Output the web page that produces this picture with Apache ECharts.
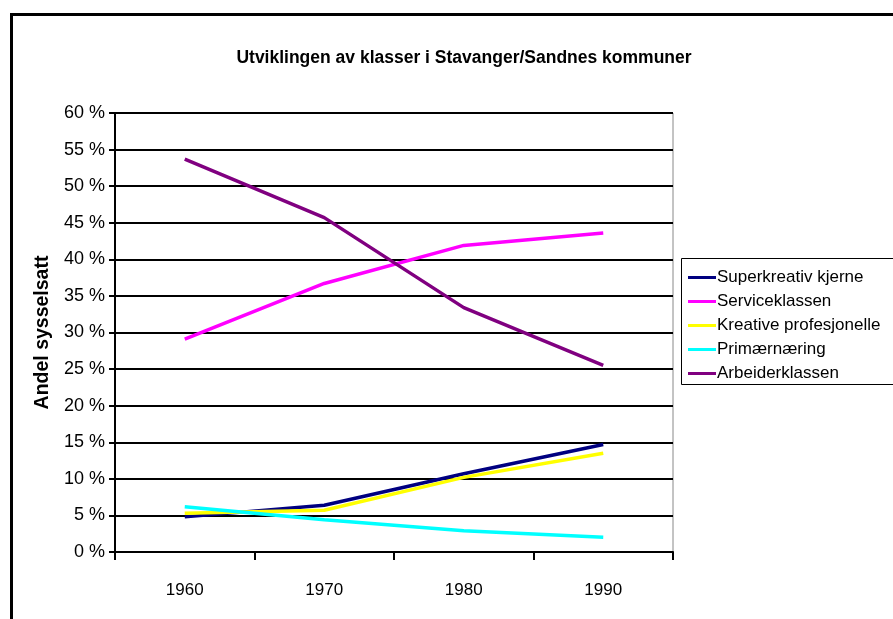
<!DOCTYPE html>
<html>
<head>
<meta charset="utf-8">
<script src="https://cdn.jsdelivr.net/npm/echarts@6/dist/echarts.min.js"></script>
<style>
  html, body { margin: 0; padding: 0; background: #ffffff; }
  #chart { width: 893px; height: 619px; }
</style>
</head>
<body>
<div id="chart"></div>
<script>
// Andel sysselsatte per klasse, Stavanger/Sandnes, 1960–1990 (prosent)
const years = ['1960', '1970', '1980', '1990'];
const superkreativ = [4.8, 6.4, 10.7, 14.7];
const service = [29.1, 36.7, 41.9, 43.6];
const kreative = [5.3, 5.7, 10.2, 13.5];
const primaer = [6.2, 4.4, 2.9, 2.0];
const arbeider = [53.7, 45.7, 33.4, 25.5];
const seriesNames = ['Superkreativ kjerne', 'Serviceklassen', 'Kreative profesjonelle', 'Primærnæring', 'Arbeiderklassen'];
const seriesColors = ['#000080', '#ff00ff', '#ffff00', '#00ffff', '#800080'];
const seriesValues = [superkreativ, service, kreative, primaer, arbeider];

const FONT = "'Liberation Sans', Arial, sans-serif";

const chart = echarts.init(document.getElementById('chart'), null, { renderer: 'canvas' });

chart.setOption({
  backgroundColor: '#ffffff',
  animation: false,
  title: {
    text: 'Utviklingen av klasser i Stavanger/Sandnes kommuner',
    left: 459, top: 44, textAlign: 'center',
    textStyle: { fontFamily: FONT, fontWeight: 'bold', fontSize: 17.5, color: '#000' }
  },
  graphic: [
    { type: 'rect', shape: { x: 11.5, y: 14.5, width: 900, height: 700 },
      style: { fill: 'none', stroke: '#000', lineWidth: 3 }, z: 100 },
    { type: 'rect', shape: { x: 681.5, y: 258.5, width: 230, height: 126 },
      style: { fill: '#fff', stroke: '#000', lineWidth: 1 }, z: 1 }
  ],
  legend: {
    orient: 'vertical',
    left: 688, top: 268,
    padding: 0,
    icon: 'rect',
    itemWidth: 28, itemHeight: 3,
    itemGap: 5,
    z: 5,
    textStyle: { fontFamily: FONT, fontSize: 17, color: '#000', lineHeight: 19, padding: [0, 0, 0, -4] },
    data: seriesNames
  },
  grid: { left: 115, right: 220, top: 113, bottom: 67, show: true, borderColor: '#888', borderWidth: 1 },
  xAxis: {
    type: 'category',
    data: years,
    boundaryGap: true,
    axisLine: { lineStyle: { color: '#000', width: 2 } },
    axisTick: { show: true, length: 8, lineStyle: { color: '#000', width: 2 } },
    axisLabel: { fontFamily: FONT, fontSize: 17, color: '#000', margin: 30 },
    splitLine: { show: false }
  },
  yAxis: {
    type: 'value',
    min: 0, max: 60, interval: 5,
    name: 'Andel sysselsatt',
    nameLocation: 'middle',
    nameGap: 54,
    nameTextStyle: { fontFamily: FONT, fontWeight: 'bold', fontSize: 19.5, color: '#000' },
    axisLine: { show: true, lineStyle: { color: '#000', width: 2 } },
    axisTick: { show: true, length: 6, lineStyle: { color: '#000', width: 2 } },
    axisLabel: { fontFamily: FONT, fontSize: 18, color: '#000', margin: 10, formatter: v => v + ' %' },
    splitLine: { show: true, lineStyle: { color: '#000', width: 2 } }
  },
  series: seriesNames.map((name, i) => ({
    name: name,
    type: 'line',
    data: seriesValues[i],
    symbol: 'none',
    color: seriesColors[i],
    lineStyle: { width: 3.5, color: seriesColors[i] },
    z: 3
  }))
});
</script>
</body>
</html>
